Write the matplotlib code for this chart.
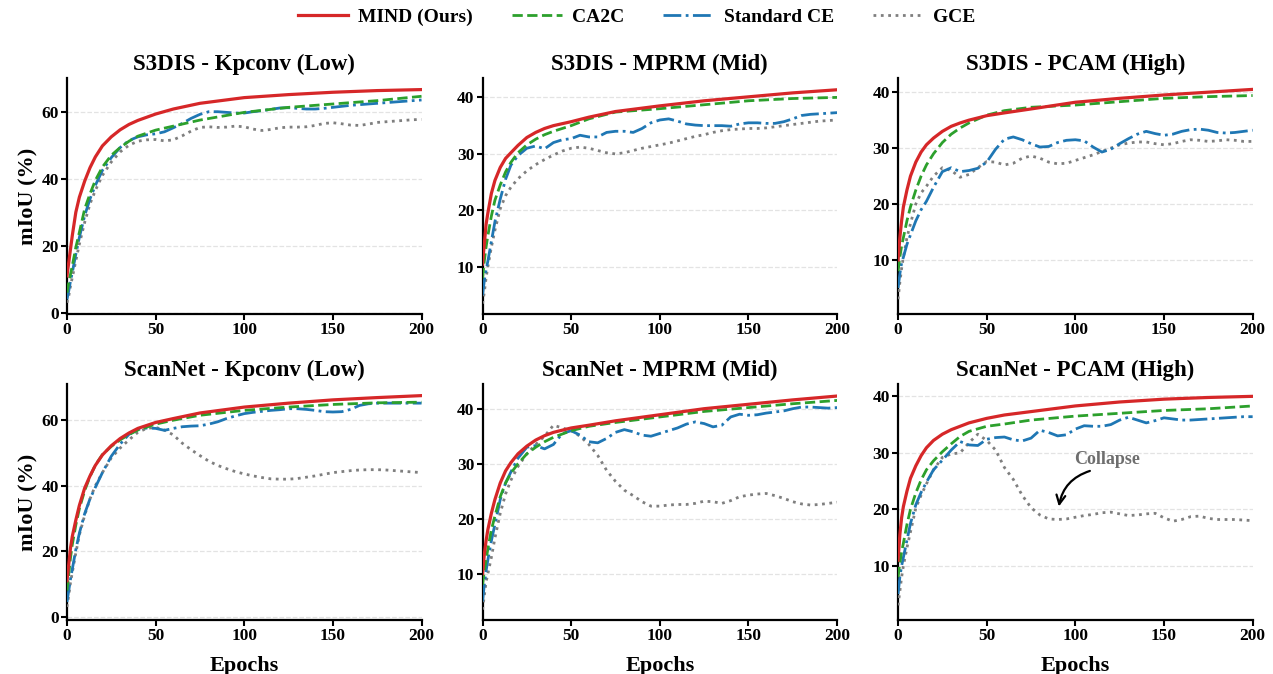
import numpy as np
import matplotlib
matplotlib.use("Agg")
import matplotlib.pyplot as plt

plt.rcParams['font.family'] = ['Liberation Serif', 'DejaVu Serif']
plt.rcParams['font.weight'] = 'bold'
plt.rcParams['axes.labelweight'] = 'bold'
plt.rcParams['axes.titleweight'] = 'bold'

# epoch grids: smooth curves are sampled sparser than the wiggly ones
ep_smooth = [0, 1, 2, 3, 5, 7, 10, 13, 16, 20, 25, 30, 35, 40, 50, 60, 75, 100, 125, 150, 175, 200]
ep_dense = [0, 1, 2, 3, 5, 7, 10, 13, 16] + list(range(20, 201, 5))

methods = ["MIND (Ours)", "CA2C", "Standard CE", "GCE"]
colors = ["#d62728", "#2ca02c", "#1f77b4", "#7f7f7f"]
styles = ["-", "--", "-.", ":"]
widths = [2.3, 2.0, 2.0, 2.0]

titles = ["S3DIS - Kpconv (Low)", "S3DIS - MPRM (Mid)", "S3DIS - PCAM (High)",
          "ScanNet - Kpconv (Low)", "ScanNet - MPRM (Mid)", "ScanNet - PCAM (High)"]

# ---- S3DIS Kpconv
s3_kp_mind = [11, 15, 19, 23, 30, 34.5, 39.3, 43.3, 46.5, 49.8, 52.5, 54.6, 56.2, 57.4, 59.3, 60.8, 62.5, 64.2, 65.1, 65.8, 66.3, 66.6]
s3_kp_ca2c = [6, 9, 11.5, 14, 19.5, 24, 31, 35.5, 39.5, 43.5, 47, 49.3, 51.2, 52.7, 54.5, 55.7, 57.5, 59.8, 61.3, 62.3, 63.3, 64.6]
s3_kp_ce = [4, 6.5, 9.5, 12, 17.5, 22.5, 29, 34, 38, 42.5, 46.3, 49.3, 51.4, 52.5, 53.1, 53.4, 54, 55.2, 56.5, 58, 59.2, 60, 60, 59.8,
            59.6, 59.6, 60, 60.3, 60.7, 61.1, 61.2, 61, 60.8, 60.8, 61, 61.3, 61.6, 61.9, 62.1, 62.3, 62.5, 62.7, 62.9, 63.1, 63.3, 63.5]
s3_kp_gce = [3, 5, 8, 10.5, 15.5, 20.5, 27, 32.5, 36.5, 41, 45, 48, 50, 51.2, 51.6, 51.7, 51.3, 51.6, 52.8, 54.2, 55.3, 55.5, 55.3, 55.4,
             55.7, 55.5, 54.8, 54.4, 54.7, 55.2, 55.4, 55.4, 55.5, 55.9, 56.5, 56.7, 56.4, 56.0, 55.9, 56.3, 56.8, 57.0, 57.2, 57.4, 57.6, 57.7]

# ---- S3DIS MPRM
s3_mp_mind = [10.5, 14, 17.5, 19.5, 23, 25.3, 27.6, 29.2, 30.2, 31.5, 32.9, 33.8, 34.5, 35, 35.7, 36.5, 37.5, 38.5, 39.4, 40.1, 40.8, 41.35]
s3_mp_ca2c = [8, 11, 13.5, 15.5, 19, 21.8, 24.5, 26.8, 28.5, 30.2, 31.6, 32.6, 33.4, 34, 35, 36.2, 37.4, 38, 38.7, 39.4, 39.8, 40]
s3_mp_ce = [5, 7.5, 9.5, 11, 14.5, 18, 22, 25.5, 28, 29.7, 31, 31.4, 30.9, 32, 32.5, 32.7, 33.3, 33, 33, 33.8, 34, 34, 33.8, 34.5,
            35.5, 36, 36.2, 35.8, 35.3, 35.1, 35, 35, 35, 34.9, 35.3, 35.5, 35.5, 35.4, 35.4, 35.7, 36.2, 36.8, 37, 37.1, 37.2, 37.3]
s3_mp_gce = [3.5, 5.5, 8, 10, 13.5, 16.5, 20.3, 22.6, 24.1, 25.6, 27, 28.1, 29, 29.8, 30.5, 31, 31.2, 31, 30.6, 30.2, 30, 30.2, 30.6, 31,
             31.3, 31.6, 31.9, 32.3, 32.7, 33.1, 33.4, 33.8, 34.1, 34.3, 34.4, 34.5, 34.5, 34.6, 34.8, 35, 35.2, 35.4, 35.6, 35.8, 35.9, 36]

# ---- S3DIS PCAM
s3_pc_mind = [10, 14, 17, 19.5, 22.5, 25, 27.5, 29.3, 30.6, 31.8, 33, 33.9, 34.5, 35, 35.8, 36.3, 37, 38.2, 38.9, 39.5, 40, 40.5]
s3_pc_ca2c = [8, 10.5, 12.5, 14, 17, 19.5, 22.5, 25, 27, 29, 31, 32.5, 33.6, 34.5, 35.9, 36.7, 37.3, 37.7, 38.3, 38.9, 39.2, 39.4]
s3_pc_ce = [5, 7.5, 9.5, 10.5, 12.8, 14.5, 17, 19, 20.5, 23, 25.8, 26.5, 25.8, 26, 26.4, 27.5, 29.8, 31.6, 32, 31.5, 30.8, 30.2, 30.3, 31,
            31.4, 31.5, 31.3, 30.2, 29.3, 29.8, 30.8, 31.7, 32.5, 33, 32.6, 32.3, 32.5, 33, 33.3, 33.4, 33.2, 32.8, 32.7, 32.8, 33, 33.2]
s3_pc_gce = [3, 6, 8.5, 10.5, 14, 16.5, 20, 22, 23.2, 25, 26.5, 26, 24.8, 25.3, 26.5, 27.6, 27.5, 27, 27.3, 28.2, 28.6, 28.2, 27.5, 27.2,
             27.3, 27.8, 28.3, 28.8, 29.4, 30, 30.6, 30.9, 31.1, 31.1, 30.8, 30.6, 30.8, 31.2, 31.5, 31.4, 31.2, 31.3, 31.5, 31.4, 31.2, 31.2]

# ---- ScanNet Kpconv
sn_kp_mind = [11, 16, 21, 24.5, 29.5, 34, 39.3, 43, 46.2, 49.4, 52.2, 54.4, 56.1, 57.5, 59.3, 60.5, 62.2, 64, 65.2, 66.2, 66.9, 67.5]
sn_kp_ca2c = [8, 13, 18, 22, 28, 33, 38.5, 42.8, 46.3, 49.5, 52, 54, 55.6, 57, 58.8, 60, 61.5, 63, 64, 64.8, 65.3, 65.5]
sn_kp_ce = [4.5, 8, 11.5, 14.5, 20.5, 25.5, 31.5, 36, 39.5, 44, 49, 52.7, 55.7, 57.2, 57.6, 57.5, 56.9, 57.5, 58, 58.2, 58.3, 58.8, 59.5, 60.5,
            61.3, 62, 62.4, 62.7, 63, 63.2, 63.5, 63.5, 63.3, 63, 62.6, 62.5, 62.6, 63.3, 64.5, 65, 65.2, 65.2, 65.2, 65.2, 65.2, 65.2]
sn_kp_gce = [3, 6.5, 10.5, 13.5, 19.5, 25, 31, 36, 40, 44, 48.5, 51.5, 54, 56.3, 57.5, 57.8, 57, 55.5, 53, 51, 49.2, 47.5, 46.2, 45.2,
             44.3, 43.6, 43, 42.5, 42.1, 42, 42, 42.2, 42.6, 43, 43.5, 44, 44.3, 44.6, 44.8, 44.9, 44.9, 44.8, 44.6, 44.4, 44.2, 44]

# ---- ScanNet MPRM
sn_mp_mind = [10, 13.5, 16, 18, 21, 23.5, 26.5, 28.7, 30.2, 31.8, 33.2, 34.3, 35.1, 35.7, 36.5, 37, 37.8, 38.9, 40, 40.8, 41.6, 42.3]
sn_mp_ca2c = [8, 10.5, 12.5, 14.5, 18, 20.5, 24, 26.5, 28.3, 30, 31.8, 33, 34, 34.8, 36, 36.8, 37.5, 38.5, 39.5, 40.2, 40.9, 41.5]
sn_mp_ce = [5, 8, 10.5, 12.5, 16, 19, 23.5, 26.5, 28.5, 31, 33, 33.3, 32.7, 33.5, 35.5, 36, 35.2, 34, 33.8, 34.6, 35.7, 36.2, 35.8, 35.2,
            35, 35.5, 36, 36.5, 37.2, 37.6, 37.3, 36.7, 37, 38.5, 39, 38.8, 38.9, 39.2, 39.4, 39.6, 40, 40.3, 40.3, 40.2, 40.1, 40.2]
sn_mp_gce = [3.5, 6, 8.5, 10, 13, 16.5, 21, 24.5, 27, 29.5, 31.8, 33.5, 35, 37, 36.5, 36, 35, 33.5, 31.5, 28.8, 26.8, 25.2, 24.2, 23.1,
             22.3, 22.3, 22.5, 22.6, 22.6, 22.8, 23.2, 23.1, 22.8, 23.3, 24, 24.3, 24.5, 24.6, 24.2, 23.7, 23.1, 22.7, 22.5, 22.6, 22.8, 23]

# ---- ScanNet PCAM
sn_pc_mind = [11, 15.5, 18.5, 20.5, 23.2, 25.5, 27.7, 29.5, 30.9, 32.2, 33.3, 34.1, 34.7, 35.3, 36.1, 36.7, 37.3, 38.3, 39, 39.5, 39.8, 40]
sn_pc_ca2c = [8, 10.5, 12.5, 14, 17.3, 20, 22.9, 25.2, 27, 28.6, 30.2, 31.6, 32.9, 33.8, 34.7, 35.1, 35.8, 36.5, 37, 37.5, 37.8, 38.3]
sn_pc_ce = [5, 8, 10, 11.5, 14.5, 17.5, 20.8, 23, 24.8, 27, 28.7, 30.5, 32, 31.4, 31.3, 32.4, 32.7, 32.8, 32.3, 32.1, 32.6, 34, 33.6, 33,
            33.2, 34.2, 34.8, 34.7, 34.7, 35, 35.8, 36.3, 35.8, 35.3, 35.7, 36.2, 36, 35.8, 35.8, 35.9, 36, 36.1, 36.2, 36.3, 36.4, 36.4]
sn_pc_gce = [3, 5.5, 8, 10, 13.2, 16, 20.2, 22.5, 24.5, 27, 29.2, 29.8, 30, 31.8, 33.3, 32.2, 30.5, 27.4, 25.3, 22.5, 20.3, 19, 18.3, 18.2,
             18.3, 18.6, 18.9, 19.1, 19.4, 19.5, 19.2, 18.9, 19, 19.2, 19.3, 18.5, 17.9, 18.2, 18.7, 18.8, 18.4, 18.2, 18.2, 18.2, 18.1, 18]

panels = [
    (s3_kp_mind, s3_kp_ca2c, s3_kp_ce, s3_kp_gce),
    (s3_mp_mind, s3_mp_ca2c, s3_mp_ce, s3_mp_gce),
    (s3_pc_mind, s3_pc_ca2c, s3_pc_ce, s3_pc_gce),
    (sn_kp_mind, sn_kp_ca2c, sn_kp_ce, sn_kp_gce),
    (sn_mp_mind, sn_mp_ca2c, sn_mp_ce, sn_mp_gce),
    (sn_pc_mind, sn_pc_ca2c, sn_pc_ce, sn_pc_gce),
]
ylims = [(-0.3, 70), (1.7, 43.4), (0.4, 42.5), (-1.0, 70.9), (1.6, 44.4), (0.4, 42.1)]
yticks = [[0, 20, 40, 60], [10, 20, 30, 40], [10, 20, 30, 40],
          [0, 20, 40, 60], [10, 20, 30, 40], [10, 20, 30, 40]]

fig, axes = plt.subplots(2, 3, figsize=(12.73, 6.74), dpi=100)
fig.subplots_adjust(left=0.0526, right=0.984, top=0.884, bottom=0.080, wspace=0.172, hspace=0.30)

for k, ax in enumerate(axes.flat):
    series = panels[k]
    # draw gray first so MIND ends on top
    for j in [3, 2, 1, 0]:
        x = ep_smooth if j < 2 else ep_dense
        ax.plot(x, series[j], linestyle=styles[j], color=colors[j], lw=widths[j],
                label=methods[j], zorder=3 + (3 - j))
    ax.set_xlim(0, 200)
    ax.set_ylim(*ylims[k])
    ax.set_xticks([0, 50, 100, 150, 200])
    ax.set_yticks(yticks[k])
    ax.set_title(titles[k], fontsize=16.5, fontweight='bold', pad=6)
    ax.grid(axis='y', linestyle='--', color='#e3e3e3', lw=0.9)
    ax.set_axisbelow(True)
    for s in ['top', 'right']:
        ax.spines[s].set_visible(False)
    for s in ['left', 'bottom']:
        ax.spines[s].set_linewidth(1.6)
    ax.tick_params(labelsize=12.5, width=1.5, length=4, pad=2)
    for lab in ax.get_xticklabels() + ax.get_yticklabels():
        lab.set_fontweight('bold')
    if k % 3 == 0:
        ax.set_ylabel("mIoU (%)", fontsize=16, fontweight='bold', labelpad=2)
    if k >= 3:
        ax.set_xlabel("Epochs", fontsize=16, fontweight='bold', labelpad=8)

ax6 = axes[1, 2]
ax6.text(118, 28.9, "Collapse", fontsize=13, fontweight='bold', color='#6e6e6e', ha='center', va='center')
ax6.annotate("", xy=(90.7, 20.5), xytext=(108.2, 26.8),
             arrowprops=dict(arrowstyle='->', color='black', lw=1.6, mutation_scale=16,
                             connectionstyle='arc3,rad=0.3', shrinkA=0, shrinkB=0))

h, l = axes[0, 0].get_legend_handles_labels()
fig.legend(h[::-1], l[::-1], loc='upper center', bbox_to_anchor=(0.5, 1.014), ncol=4, frameon=False,
           handlelength=2.6, handletextpad=0.5, columnspacing=2.0, prop={'weight': 'bold', 'size': 14})

fig.savefig("out.png", dpi=100)
